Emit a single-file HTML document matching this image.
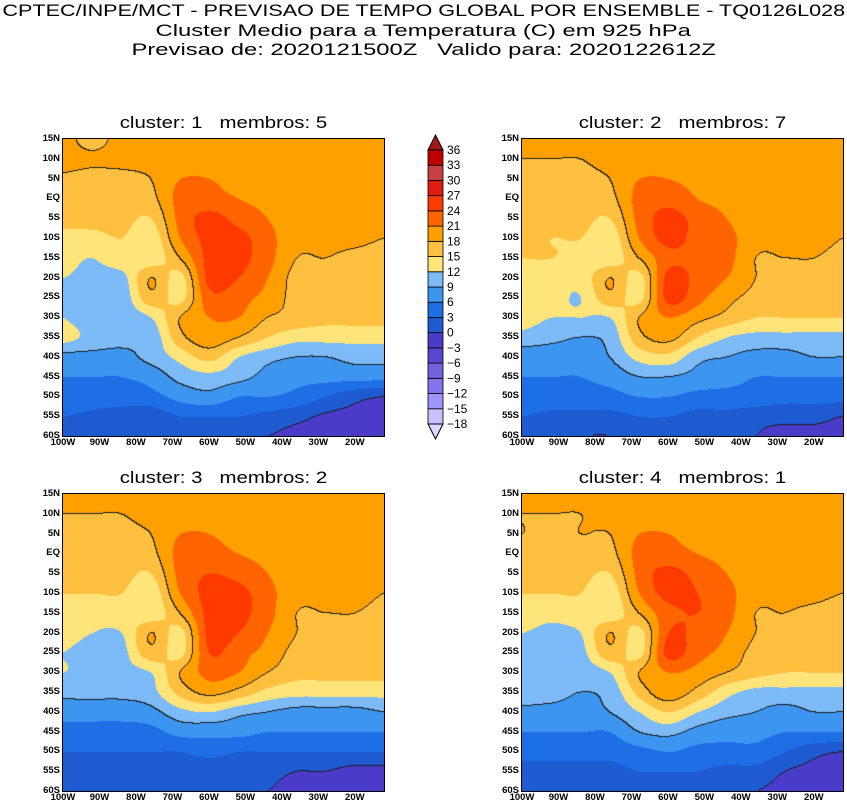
<!DOCTYPE html>
<html><head><meta charset="utf-8">
<style>
body{margin:0;background:#fff;width:847px;height:803px;overflow:hidden;position:relative;font-family:"Liberation Sans",sans-serif}
.t{position:absolute;left:0;width:847px;text-align:center;font-size:17px;color:#000;line-height:18px;white-space:pre}
.t span{display:inline-block}
.pt{position:absolute;width:321px;text-align:center;font-size:17px;white-space:pre}
.pt span{display:inline-block;transform:scaleX(1.2)}
canvas{position:absolute}
.lab{position:absolute;font-size:9.5px;font-weight:bold;color:#000}
</style></head><body>
<div class="t" style="top:2px"><span style="transform:scaleX(1.27)">CPTEC/INPE/MCT - PREVISAO DE TEMPO GLOBAL POR ENSEMBLE - TQ0126L028</span></div>
<div class="t" style="top:22px"><span style="transform:scaleX(1.4)">Cluster Medio para a Temperatura (C) em 925 hPa</span></div>
<div class="t" style="top:41px"><span style="transform:scaleX(1.4)">Previsao de: 2020121500Z   Valido para: 2020122612Z</span></div>
<svg id="cb" style="position:absolute;left:0;top:0" width="847" height="803"></svg>
<script>
const lons=[100,92,84,76,68,60,52,44,36,28,20,12];
const lats=[15,10,5,0,-5,-10,-15,-20,-25,-30,-35,-40,-45,-50,-55,-60];
const levels=[-18,-15,-12,-9,-6,-3,0,3,6,9,12,15,18,21,24,27,30,33,36];
const colors=["#dcd8ff","#c8c0ff","#a094ff","#8674ee","#7462e0","#5a46d2","#4a3cc8","#1e5ad0","#1e6ee6","#3c96f0","#7cbaf8","#ffe47a","#ffc040","#ffa000","#ff6400","#ff3a00","#e01c10","#c84040","#c00000","#a01818"];
const field1=[
[19,17,19,19,20,20,19,19,19,19,19,20],
[19,18.5,19,19,19,20,19,19,19,19,20,21],
[17.5,17,17,18,21,21,20,19,19,19,19,19],
[16,16,16,17,22,22,21,20,19,19,19,19],
[16,16,16,15,22,25,23,21,19,19,19,19],
[14,14,15,13,21,25,25,22,19,19,19,18],
[13,12,14,13,18,25,25,22,18,18,17,16],
[12,11,11,18,14,25,24,21,17,17,17,15],
[11,10,10,17,14,23,22,20,17,17,16,16],
[12,10,10,12,18,21,21,18,17,16,16,16],
[13,11,10,10,17,20,18,15,13,13,13,13],
[8,8,8,10,13,16,12,10,9,9,10,10],
[6,6,6,7,10,11,10,8,7,7,7,7],
[5,5,5,5,7,8,6,6,5,3,1,0],
[3,2,1,1,3,3,3,2,1,-0.5,-1,-1],
[0,0,0,0,0,0,0,0,-1,-2,-3,-3]];
const field2=[
[19,19,19,19,20,20,19,19,19,19,19,20],
[18,18,18,19,19,20,19,19,19,19,19,20],
[17,17,17,18,21,21,20,19,19,19,19,19],
[16,16,16,17,22,23,21,20,19,19,19,19],
[16,16,16,15,22,25,23,21,19,19,19,19],
[16,15,15,13,21,25,23,22,19,19,19,18],
[15,15,14,13,18,23,23,22,18,18,18,17],
[14,13,13,18,14,25,23,21,18,17,17,16],
[13,13,12,17,14,25,22,19,17,16,16,16],
[13,12,12,12,18,21,19,17,15,15,15,15],
[11,10,9,10,17,19,15,12,11,11,11,11],
[7,7,7,9,13,14,10,9,8,8,9,9],
[6,6,6,7,9,9,8,7,6,6,6,6],
[5,5,5,5,6,6,5,5,5,4,4,4],
[3,2,2,2,3,3,2,2,1,1,1,0],
[0,0,0,0,1,1,1,0,0,-1,-1,-1]];
const field3=[
[19,19,19,19,20,20,19,19,19,19,19,20],
[18,18,18,19,19,20,19,19,19,19,19,20],
[17,17,17,18,21,21,20,19,19,19,19,19],
[16,16,16,17,22,22,21,20,19,19,19,19],
[16,16,16,15,22,24,23,21,19,19,19,19],
[15,15,15,13,21,25,25,22,19,19,19,18],
[14,13,14,13,18,25,25,22,18,18,18,17],
[13,12,12,18,14,25,24,21,18,17,17,16],
[12,11,11,17,14,24,22,20,17,17,16,16],
[12,11,11,12,18,22,21,18,16,16,16,16],
[10,10,10,11,16,19,17,14,13,13,13,13],
[7,7,7,8,11,12,10,9,8,8,8,9],
[5,5,5,5,7,7,7,6,6,6,6,6],
[3,3,3,3,3,4,3,3,3,3,3,3],
[1,1,1,1,1,1,1,1,0,0,-1,-1],
[0,0,0,0,0,0,0,0,-1,-1,-2,-2]];
const field4=[
[19,19,19,19,20,20,19,19,18.5,19,19,20],
[18,18,18,19,19,20,19,19,18.5,19,19,20],
[18,17,18,18,21,21,20,19,19,19,19,19],
[17,17,17,17,22,22,21,20,19,19,19,19],
[16,16,16,15,22,25,23,21,19,19,19,19],
[15,15,15,13,21,25,24,22,19,19,19,18],
[14,13,14,13,18,23,24,22,18,18,17,16],
[12,11,12,18,14,24,23,21,18,17,16,15],
[11,10,11,17,14,25,22,20,17,16,16,16],
[11,10,10,12,18,21,20,18,16,15,15,15],
[11,10,9,10,16,20,17,13,11,11,11,11],
[8,8,8,9,12,15,12,10,9,8,9,9],
[6,6,6,6,9,10,8,7,7,6,6,6],
[4,4,4,4,5,6,5,5,5,3,1,0],
[2,2,2,2,3,3,3,2,2,0,-1,-2],
[1,1,1,1,1,1,1,0,0,-1,-2,-2]];
const panels=[
 {f:field1,x:63,y:139,title:"cluster: 1   membros: 5",n:"cluster-1"},
 {f:field2,x:522,y:139,title:"cluster: 2   membros: 7",n:"cluster-2"},
 {f:field3,x:63,y:494,title:"cluster: 3   membros: 2",n:"cluster-3"},
 {f:field4,x:522,y:494,title:"cluster: 4   membros: 1",n:"cluster-4"}];
const W=321,H=297,LON0=100,LON1=12,LAT0=15,LAT1=-60;
const xScale=lw=>(LON0-lw)/(LON0-LON1)*W;
const yScale=la=>(LAT0-la)/(LAT0-LAT1)*H;
function hex(c){return [parseInt(c.slice(1,3),16),parseInt(c.slice(3,5),16),parseInt(c.slice(5,7),16)];}
const rgb=colors.map(hex);
function cls(v){let i=0;while(i<levels.length&&v>=levels[i])i++;return i;}
function cr(p0,p1,p2,p3,t){return 0.5*((2*p1)+(-p0+p2)*t+(2*p0-5*p1+4*p2-p3)*t*t+(-p0+3*p1-3*p2+p3)*t*t*t);}
function g(f,j,i){j=Math.max(0,Math.min(lats.length-1,j));i=Math.max(0,Math.min(lons.length-1,i));return f[j][i];}
function sample(f,lw,la){
 let gx=(LON0-lw)/8,gy=(LAT0-la)/5;
 gx=Math.max(0,Math.min(lons.length-1.001,gx));gy=Math.max(0,Math.min(lats.length-1.001,gy));
 const i=Math.floor(gx),j=Math.floor(gy),fx=gx-i,fy=gy-j;
 const r=[];for(let k=-1;k<=2;k++){r.push(cr(g(f,j+k,i-1),g(f,j+k,i),g(f,j+k,i+1),g(f,j+k,i+2),fx));}
 return cr(r[0],r[1],r[2],r[3],fy);}
panels.forEach(p=>{
 const t=document.createElement('div');t.className='pt';
 const sp=document.createElement('span');sp.textContent=p.title;t.appendChild(sp);
 t.style.left=p.x+'px';t.style.top=(p.y-26)+'px';
 
 
 document.body.appendChild(t);
 const c=document.createElement('canvas');c.width=W;c.height=H;
 c.style.left=p.x+'px';c.style.top=p.y+'px';c.style.border='1.5px solid #000';c.style.marginLeft='-1.5px';c.style.marginTop='-1.5px';
 
 
 document.body.appendChild(c);
 const ctx=c.getContext('2d');const img=ctx.createImageData(W,H);
 const val=[];
 for(let y=0;y<H;y++){const row=[];for(let x=0;x<W;x++){row.push(sample(p.f,LON0-x/W*(LON0-LON1),LAT0-y/H*(LAT0-LAT1)));}val.push(row);}
 const line=[0,9,18];
 for(let y=0;y<H;y++)for(let x=0;x<W;x++){
  const v=val[y][x];let col=rgb[cls(v)];
  const r=x+1<W?val[y][x+1]:v,d=y+1<H?val[y+1][x]:v;
  for(const L of line){if((v-L)*(r-L)<0||(v-L)*(d-L)<0){col=[30,30,30];}}
  const k=(y*W+x)*4;img.data[k]=col[0];img.data[k+1]=col[1];img.data[k+2]=col[2];img.data[k+3]=255;}
 ctx.putImageData(img,0,0);
 ["15N","10N","5N","EQ","5S","10S","15S","20S","25S","30S","35S","40S","45S","50S","55S","60S"].forEach((s,i)=>{
  const l=document.createElement('div');l.className='lab';l.textContent=s;
  l.style.left=(p.x-36)+'px';l.style.width='33px';l.style.textAlign='right';l.style.top=(p.y+yScale(lats[i])-6)+'px';
  
  
  document.body.appendChild(l);});
 [100,90,80,70,60,50,40,30,20].forEach(lw=>{
  const l=document.createElement('div');l.className='lab';l.textContent=lw+'W';
  l.style.left=(p.x+xScale(lw)-14)+'px';l.style.width='28px';l.style.textAlign='center';l.style.top=(p.y+H+1)+'px';
  
  
  document.body.appendChild(l);});
});
const cb=document.getElementById('cb');const NS='http://www.w3.org/2000/svg';
const cbTop=150,cbBot=424,bx=428,bw=15,bh=(cbBot-cbTop)/18;
for(let i=0;i<18;i++){const r=document.createElementNS(NS,'rect');
 r.setAttribute('x',bx);r.setAttribute('y',cbBot-(i+1)*bh);r.setAttribute('width',bw);r.setAttribute('height',bh);
 r.setAttribute('fill',colors[i+1]);r.setAttribute('stroke','#000');r.setAttribute('stroke-width','0.8');
 
 
 cb.appendChild(r);}
const tu=document.createElementNS(NS,'polygon');tu.setAttribute('points',`${bx},${cbTop} ${bx+bw},${cbTop} ${bx+bw/2},${cbTop-15}`);tu.setAttribute('fill',colors[19]);tu.setAttribute('stroke','#000');


cb.appendChild(tu);
const td=document.createElementNS(NS,'polygon');td.setAttribute('points',`${bx},${cbBot} ${bx+bw},${cbBot} ${bx+bw/2},${cbBot+15}`);td.setAttribute('fill',colors[0]);td.setAttribute('stroke','#000');


cb.appendChild(td);
levels.forEach((L,i)=>{const t=document.createElementNS(NS,'text');t.setAttribute('x',447);t.setAttribute('y',cbBot-i*bh+4);
 t.setAttribute('font-size','12');t.setAttribute('font-family','Liberation Sans, sans-serif');t.textContent=L<0?'\u2212'+(-L):L;
 
 
 cb.appendChild(t);});
</script>
</body></html>
